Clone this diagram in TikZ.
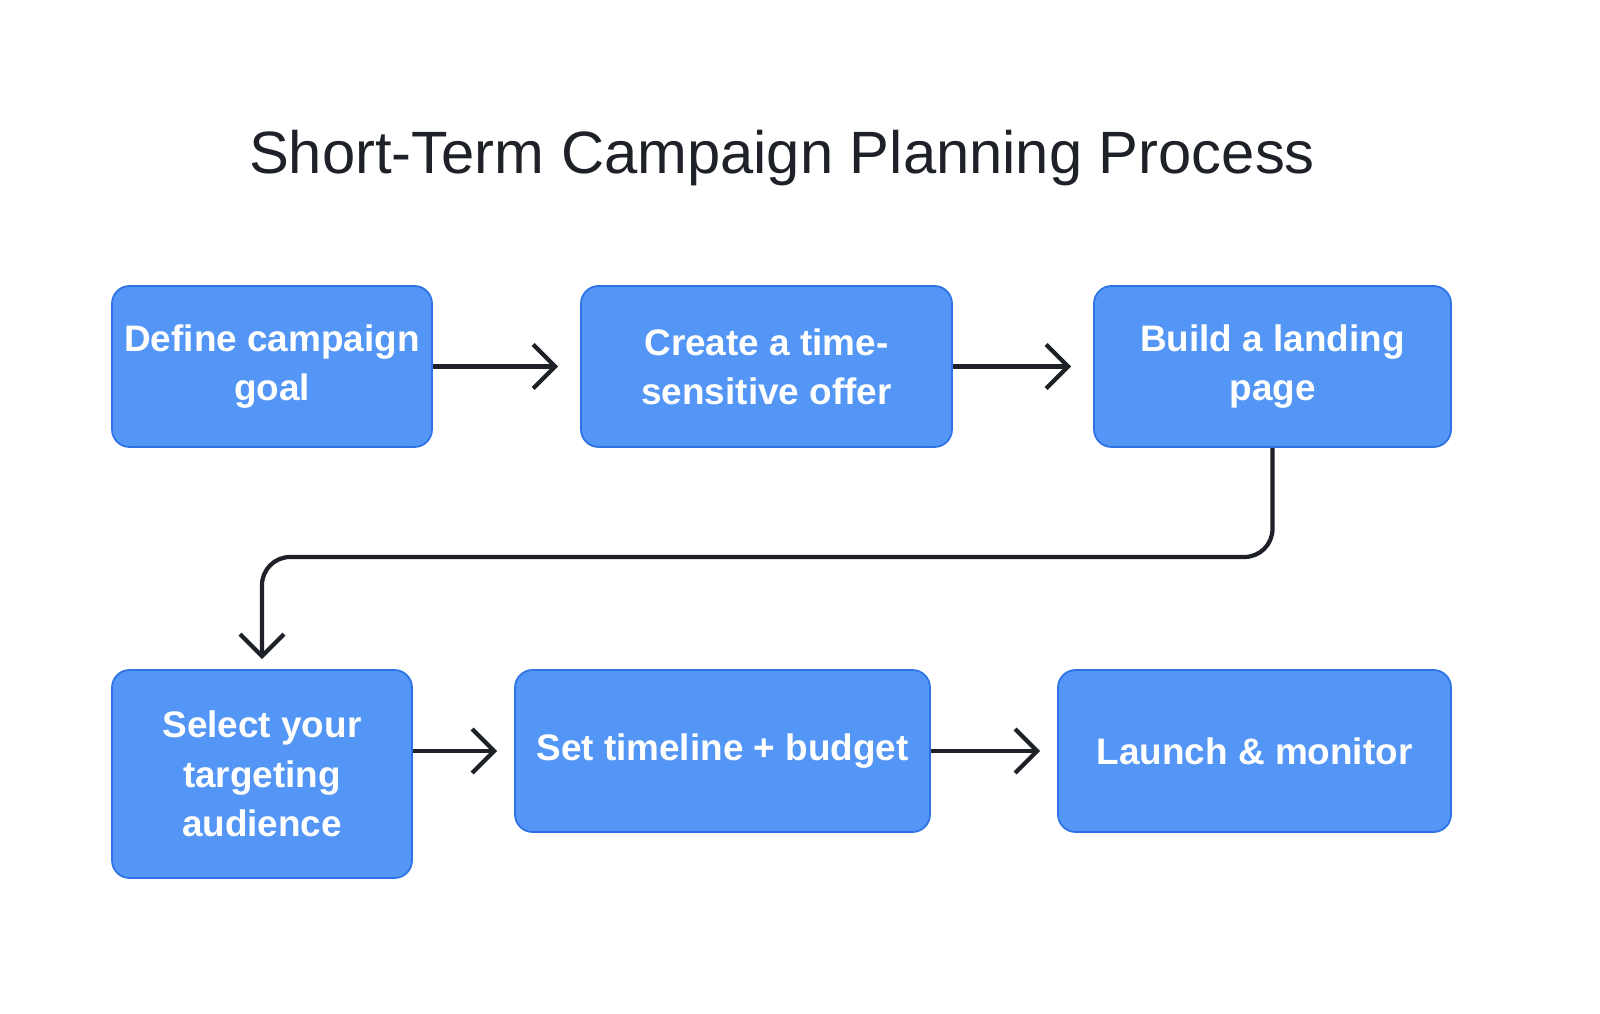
\documentclass[tikz,border=0pt]{standalone}
\usepackage{fontspec}
\setmainfont{Liberation Sans}
\usetikzlibrary{arrows.meta,positioning}
\definecolor{stepblue}{RGB}{84,150,245}
\definecolor{stepedge}{RGB}{45,115,230}
\definecolor{darkline}{RGB}{30,34,40}

\begin{document}
\begin{tikzpicture}[
    box/.style={rectangle,draw=stepedge,line width=0.5pt,fill=stepblue,rounded corners=5pt,align=center,
      text=white,font=\fontsize{10.5}{14}\selectfont\bfseries,minimum height=1.61cm},
    link/.style={-{Straight Barb[length=2.2mm,width=4.4mm]},line width=1.2pt,draw=darkline}]
    \useasboundingbox (0,0) rectangle (16,10.13);

    \node[font=\fontsize{17}{20}\selectfont,text=darkline] (title) at (7.82,8.55) {Short-Term Campaign Planning Process};

    \node[box,minimum width=3.2cm] (goal) at (2.72,6.465) {Define campaign\\goal};
    \node[box,minimum width=3.71cm] (offer) at (7.665,6.465) {Create a time-\\sensitive offer};
    \node[box,minimum width=3.57cm] (landing) at (12.725,6.465) {Build a landing\\page};
    \node[box,minimum width=3cm,minimum height=2.08cm] (audience) at (2.62,2.39) {Select your\\targeting\\audience};
    \node[box,minimum width=4.15cm,minimum height=1.62cm] (budget) at (7.225,2.62) {Set timeline + budget};
    \node[box,minimum width=3.93cm,minimum height=1.62cm] (launch) at (12.545,2.62) {Launch \& monitor};

    \draw[link,shorten >=2.2mm] (goal.east) -- (goal.east -| offer.west);
    \draw[link,shorten >=2.2mm] (offer.east) -- (offer.east -| landing.west);
    \draw[link,rounded corners=8pt] (landing.south) |- (2.62,4.56) -- ([yshift=1mm]audience.north);
    \draw[link,shorten >=1.7mm] (audience.east |- budget.west) -- (budget.west);
    \draw[link,shorten >=1.7mm] (budget.east) -- (launch.west);
\end{tikzpicture}
\end{document}
